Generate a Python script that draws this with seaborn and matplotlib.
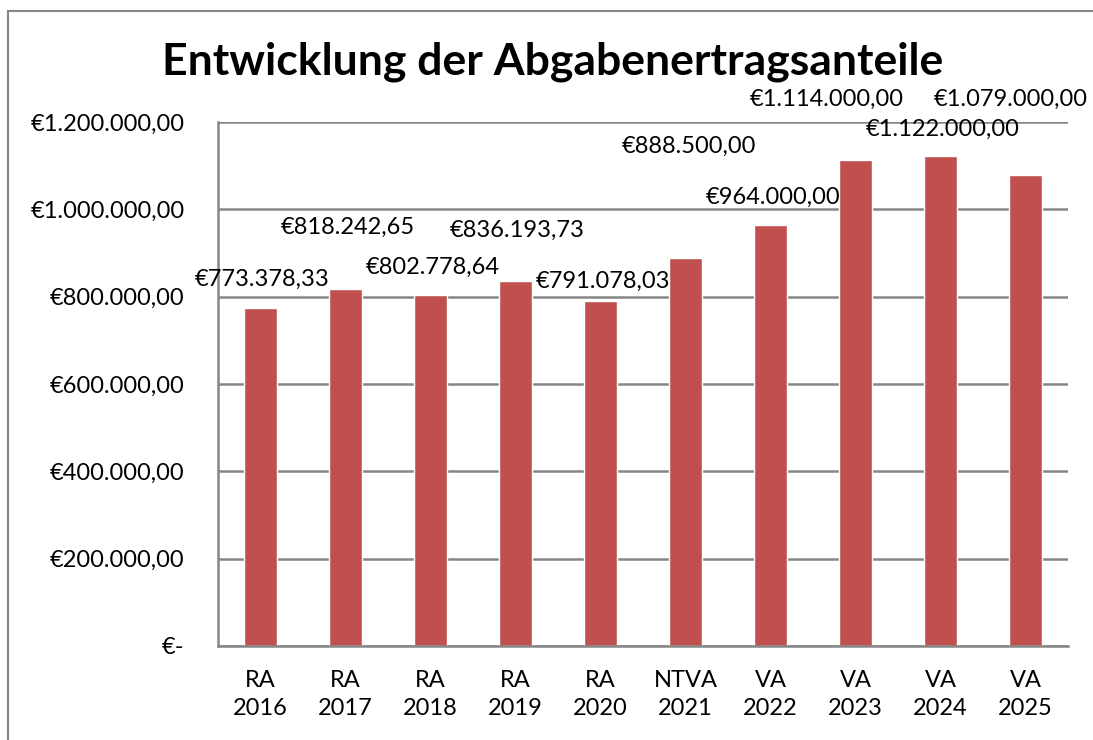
import matplotlib.pyplot as plt
import seaborn as sns
import pandas as pd
from matplotlib.patches import Rectangle
from matplotlib.ticker import FuncFormatter, MultipleLocator

# Daten
kategorien = ['RA\n2016', 'RA\n2017', 'RA\n2018', 'RA\n2019', 'RA\n2020',
              'NTVA\n2021', 'VA\n2022', 'VA\n2023', 'VA\n2024', 'VA\n2025']
werte = [773378.33, 818242.65, 802778.64, 836193.73, 791078.03,
         888500.00, 964000.00, 1114000.00, 1122000.00, 1079000.00]
# Verschiebung der Beschriftungen (Pixel, x / y) wie im Original
label_dx = [2, 2, 2, 2, 2, 3, 3, -29, 2, -15]
label_dy = [29, 61, 28, 51, 19, 112, 28, 60, 27, 75]

df = pd.DataFrame({'Jahr': kategorien, 'Betrag': werte})


def euro(v):
    if v == 0:
        return '€-'
    s = f'{v:,.2f}'.replace(',', 'X').replace('.', ',').replace('X', '.')
    return '€' + s


sns.set_style('white')
plt.rcParams['font.family'] = ['Lato', 'DejaVu Sans']
plt.rcParams['text.color'] = 'black'
plt.rcParams['xtick.color'] = 'black'
plt.rcParams['ytick.color'] = 'black'

fig = plt.figure(figsize=(10.93, 7.4), dpi=100)
ax = fig.add_axes([218 / 1093, 1 - 646 / 740, (1068 - 218) / 1093, (646 - 122) / 740])

sns.barplot(data=df, x='Jahr', y='Betrag', color='#C0504D', saturation=1,
            width=0.39, ax=ax)

grau = '#868686'
ax.set_ylim(0, 1200000)
ax.set_xlim(-0.5, len(kategorien) - 0.5)
ax.yaxis.set_major_locator(MultipleLocator(200000))
ax.yaxis.set_major_formatter(FuncFormatter(lambda v, p: euro(v)))
ax.grid(axis='y', color=grau, linewidth=1.8)
ax.set_axisbelow(True)
for s in ['top', 'right']:
    ax.spines[s].set_visible(False)
for s in ['left', 'bottom']:
    ax.spines[s].set_color(grau)
    ax.spines[s].set_linewidth(1.8)

ax.set_xlabel('')
ax.set_ylabel('')
ax.tick_params(axis='y', length=6, width=1.8, color=grau, labelsize=17, pad=18)
ax.tick_params(axis='x', which='major', length=0, labelsize=17, pad=17)
ax.set_xticks([i - 0.5 for i in range(len(kategorien) + 1)], minor=True)
ax.tick_params(axis='x', which='minor', length=6, width=1.8, color=grau)
for t in ax.get_xticklabels():
    t.set_linespacing(1.45)

for i, v in enumerate(werte):
    ax.annotate(euro(v), xy=(i, v),
                xytext=(label_dx[i] * 0.72, label_dy[i] * 0.72),
                textcoords='offset points', ha='center', va='center',
                fontsize=17, annotation_clip=False)

fig.text(553 / 1093, 1 - 62 / 740, 'Entwicklung der Abgabenertragsanteile',
         ha='center', va='center', fontsize=32, fontweight='bold')

fig.patches.append(Rectangle((8 / 1093, -0.05), 1.2, 1 - 11 / 740 + 0.05,
                             transform=fig.transFigure, fill=False,
                             edgecolor=grau, linewidth=1.5))

fig.savefig('out.png', dpi=100)
